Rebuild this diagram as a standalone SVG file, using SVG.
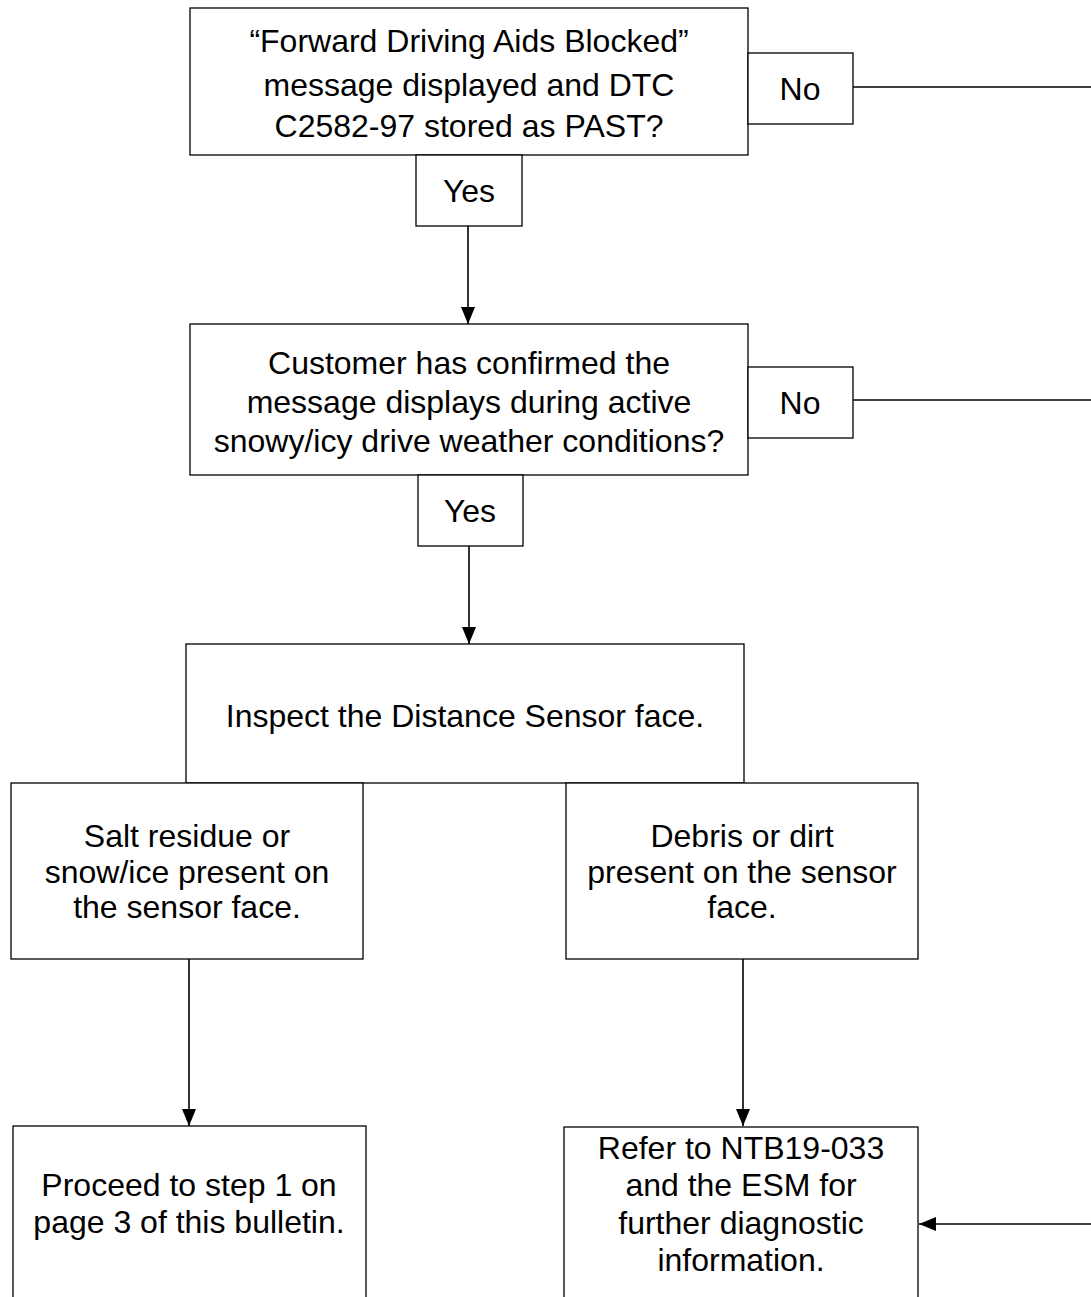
<svg xmlns="http://www.w3.org/2000/svg" width="1091" height="1297" viewBox="0 0 1091 1297">
<style>
.box{fill:#fff;stroke:#000;stroke-width:1.3}
.t{font-family:"Liberation Sans",Arial,sans-serif;font-size:32px;fill:#000;text-anchor:middle}
.c{stroke:#000;stroke-width:1.6;fill:none}
</style>
<defs>
<marker id="ah" markerWidth="17" markerHeight="14" refX="17" refY="7" orient="auto" markerUnits="userSpaceOnUse">
<path d="M0,0 L17,7 L0,14 Z" fill="#000"/>
</marker>
</defs>
<rect width="1091" height="1297" fill="#fff"/>
<g id="connectors">
<line class="c" x1="853" y1="87" x2="1091" y2="87" stroke-width="2.2"/>
<line class="c" x1="853" y1="400" x2="1091" y2="400"/>
<line class="c" x1="468" y1="226" x2="468" y2="324" marker-end="url(#ah)"/>
<line class="c" x1="469" y1="546" x2="469" y2="644" marker-end="url(#ah)"/>
<line class="c" x1="189" y1="959" x2="189" y2="1126" marker-end="url(#ah)"/>
<line class="c" x1="743" y1="959" x2="743" y2="1126" marker-end="url(#ah)"/>
<line class="c" x1="1091" y1="1224" x2="919" y2="1224" marker-end="url(#ah)"/>
</g>
<g id="q1">
<rect class="box" x="190" y="8" width="558" height="147"/>
<text class="t" x="469" y="52">“Forward Driving Aids Blocked”</text>
<text class="t" x="469" y="96">message displayed and DTC</text>
<text class="t" x="469" y="137">C2582-97 stored as PAST?</text>
</g>
<g id="no1">
<rect class="box" x="748" y="53" width="105" height="71"/>
<text class="t" x="800" y="100">No</text>
</g>
<g id="yes1">
<rect class="box" x="416" y="155" width="106" height="71"/>
<text class="t" x="469" y="202">Yes</text>
</g>
<g id="q2">
<rect class="box" x="190" y="324" width="558" height="151"/>
<text class="t" x="469" y="374">Customer has confirmed the</text>
<text class="t" x="469" y="413">message displays during active</text>
<text class="t" x="469" y="452">snowy/icy drive weather conditions?</text>
</g>
<g id="no2">
<rect class="box" x="748" y="367" width="105" height="71"/>
<text class="t" x="800" y="414">No</text>
</g>
<g id="yes2">
<rect class="box" x="418" y="475" width="105" height="71"/>
<text class="t" x="470" y="522">Yes</text>
</g>
<g id="inspect">
<rect class="box" x="186" y="644" width="558" height="139"/>
<text class="t" x="465" y="727">Inspect the Distance Sensor face.</text>
</g>
<g id="salt">
<rect class="box" x="11" y="783" width="352" height="176"/>
<text class="t" x="187" y="847">Salt residue or</text>
<text class="t" x="187" y="883">snow/ice present on</text>
<text class="t" x="187" y="918">the sensor face.</text>
</g>
<g id="debris">
<rect class="box" x="566" y="783" width="352" height="176"/>
<text class="t" x="742" y="847">Debris or dirt</text>
<text class="t" x="742" y="883">present on the sensor</text>
<text class="t" x="742" y="918">face.</text>
</g>
<g id="proceed">
<rect class="box" x="13" y="1126" width="353" height="190"/>
<text class="t" x="189" y="1196">Proceed to step 1 on</text>
<text class="t" x="189" y="1233">page 3 of this bulletin.</text>
</g>
<g id="refer">
<rect class="box" x="564" y="1127" width="354" height="190"/>
<text class="t" x="741" y="1159">Refer to NTB19-033</text>
<text class="t" x="741" y="1196">and the ESM for</text>
<text class="t" x="741" y="1234">further diagnostic</text>
<text class="t" x="741" y="1271">information.</text>
</g>
</svg>
